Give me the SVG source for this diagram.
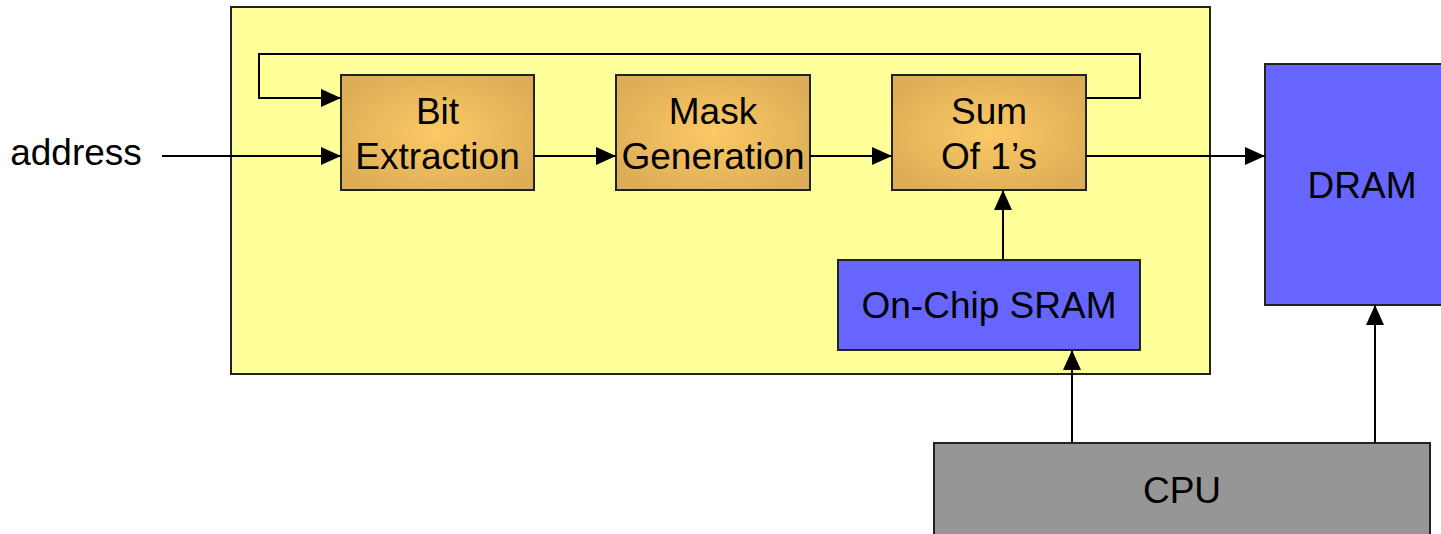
<svg xmlns="http://www.w3.org/2000/svg" width="1441" height="534" viewBox="0 0 1441 534">
  <defs>
    <radialGradient id="gold" cx="50%" cy="50%" r="60%">
      <stop offset="0" stop-color="#FCC966"/>
      <stop offset="1" stop-color="#DCAD56"/>
    </radialGradient>
    <marker id="arr" viewBox="0 0 20 18" refX="20" refY="9" markerWidth="20" markerHeight="18" markerUnits="userSpaceOnUse" orient="auto">
      <path d="M0,0 L20,9 L0,18 Z" fill="#000"/>
    </marker>
  </defs>
  <style>
    .lbl { font-family: "Liberation Sans", Arial, sans-serif; font-size: 37px; fill: #000; text-anchor: middle; }
    .box { stroke: #222; stroke-width: 2; }
    .gold { fill: url(#gold); }
    .blue { fill: #6666FF; }
    .wire { fill: none; stroke: #000; stroke-width: 2; }
  </style>
  <rect width="1441" height="534" fill="#fff"/>

  <!-- chip boundary -->
  <g id="chip">
    <rect x="231" y="7" width="979" height="367" fill="#FFFF99" class="box"/>
  </g>

  <g id="bit-extraction">
    <rect x="341" y="75" width="193" height="115" class="box gold"/>
    <text class="lbl" x="437.5" y="124">Bit</text>
    <text class="lbl" x="437.5" y="169">Extraction</text>
  </g>

  <g id="mask-generation">
    <rect x="616" y="75" width="194" height="115" class="box gold"/>
    <text class="lbl" x="713" y="124">Mask</text>
    <text class="lbl" x="713" y="169">Generation</text>
  </g>

  <g id="sum-of-ones">
    <rect x="892" y="75" width="194" height="115" class="box gold"/>
    <text class="lbl" x="989" y="124">Sum</text>
    <text class="lbl" x="989" y="169">Of 1’s</text>
  </g>

  <g id="sram">
    <rect x="838" y="260" width="302" height="90" class="box blue"/>
    <text class="lbl" x="989" y="318">On-Chip SRAM</text>
  </g>

  <g id="dram">
    <rect x="1265" y="64" width="180" height="241" class="box blue"/>
    <text class="lbl" x="1362" y="198">DRAM</text>
  </g>

  <g id="cpu">
    <rect x="934" y="443" width="496" height="96" fill="#969696" class="box"/>
    <text class="lbl" x="1182" y="503">CPU</text>
  </g>

  <g id="address-label">
    <text class="lbl" x="76" y="165">address</text>
  </g>

  <g id="connectors">
    <path class="wire" d="M162,156 H341" marker-end="url(#arr)"/>
    <path class="wire" d="M1086,98 H1140 V54 H259 V98 H341" marker-end="url(#arr)"/>
    <path class="wire" d="M534,156 H616" marker-end="url(#arr)"/>
    <path class="wire" d="M810,156 H892" marker-end="url(#arr)"/>
    <path class="wire" d="M1086,156 H1265" marker-end="url(#arr)"/>
    <path class="wire" d="M1003,260 V190" marker-end="url(#arr)"/>
    <path class="wire" d="M1072,443 V350" marker-end="url(#arr)"/>
    <path class="wire" d="M1375,443 V305" marker-end="url(#arr)"/>
  </g>
</svg>
